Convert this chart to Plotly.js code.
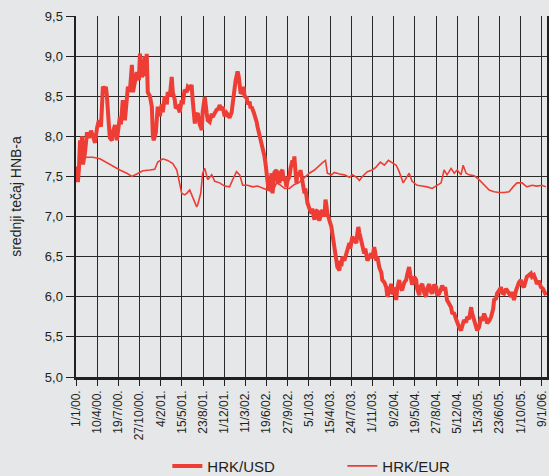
<!DOCTYPE html>
<html>
<head>
<meta charset="utf-8">
<script src="https://cdn.plot.ly/plotly-3.0.1.min.js"></script>
<style>html,body{margin:0;padding:0;background:#e6e7e9;}#chart{width:549px;height:476px;}</style>
</head>
<body>
<div id="chart"></div>
<script>
// Days since 1/1/2000 and rates
const usdDay = [0,5,9,14,19,24,28,33,42,52,61,71,80,90,99,108,118,122,127,137,141,146,151,155,160,170,174,184,193,198,207,212,221,231,236,245,254,264,269,278,287,297,302,311,320,325,330,334,339,349,358,363,367,377,382,386,396,405,410,419,429,433,443,452,457,466,471,481,490,499,504,513,523,528,537,546,551,561,565,575,584,594,598,608,617,622,631,641,645,655,664,674,678,688,693,702,711,721,725,735,740,749,754,758,763,768,773,777,787,791,796,806,810,820,824,829,839,843,853,857,867,876,886,890,895,900,904,909,914,919,923,928,933,937,947,952,961,966,975,980,985,994,999,1008,1013,1022,1027,1031,1036,1041,1046,1055,1060,1069,1079,1083,1093,1102,1112,1116,1126,1131,1140,1145,1149,1159,1163,1173,1178,1182,1187,1197,1206,1211,1220,1225,1229,1234,1244,1248,1253,1258,1267,1277,1281,1291,1295,1305,1314,1324,1328,1333,1338,1347,1352,1361,1366,1376,1385,1394,1399,1408,1413,1418,1423,1432,1442,1446,1456,1465,1470,1479,1484,1489,1493,1503,1507,1512,1517,1526,1531,1540,1550,1559,1564,1573,1578,1587,1597,1606,1611,1621,1625,1635,1644,1653,1658,1668,1672,1682,1691,1701,1705,1715,1724,1729,1738,1743,1752,1762,1771,1776,1786,1795,1800,1809,1818,1823,1832,1842,1847,1856,1866,1870,1880,1889,1894,1903,1913,1918,1927,1937,1941,1951,1960,1970,1974,1984,1988,1998,2007,2012,2021,2031,2035,2045,2054,2059,2068,2078,2082,2092,2101,2106,2115,2125,2129,2139,2148,2153,2162,2172,2176,2186,2195,2205,2209,2219];
const usdRate = [7.52,7.62,7.43,7.60,7.95,7.68,8.00,7.65,7.79,8.05,7.98,8.07,8.00,7.92,8.10,8.20,8.12,8.45,8.62,8.58,8.62,8.50,8.37,8.15,7.98,7.95,8.05,8.14,7.95,8.10,8.24,8.15,8.45,8.20,8.40,8.62,8.55,8.89,8.55,8.70,8.80,8.70,9.03,8.74,8.80,9.00,8.75,9.03,8.55,8.50,8.37,8.00,7.95,8.05,8.20,8.37,8.25,8.40,8.30,8.50,8.40,8.55,8.50,8.74,8.55,8.46,8.35,8.37,8.30,8.45,8.40,8.58,8.55,8.62,8.60,8.64,8.45,8.16,8.25,8.29,8.15,8.08,8.30,8.49,8.29,8.20,8.18,8.28,8.24,8.30,8.33,8.35,8.39,8.33,8.37,8.25,8.29,8.25,8.23,8.30,8.45,8.60,8.70,8.80,8.81,8.75,8.66,8.55,8.54,8.62,8.50,8.48,8.40,8.43,8.35,8.37,8.30,8.27,8.18,8.12,8.02,7.92,7.82,7.75,7.66,7.58,7.45,7.33,7.50,7.40,7.54,7.29,7.45,7.55,7.58,7.45,7.42,7.55,7.58,7.45,7.50,7.37,7.45,7.50,7.60,7.70,7.62,7.75,7.58,7.42,7.55,7.50,7.58,7.42,7.29,7.35,7.17,7.10,7.04,7.10,6.96,7.06,7.08,6.98,6.95,7.06,7.08,7.00,7.21,7.15,7.04,6.95,6.87,6.78,6.62,6.50,6.42,6.37,6.33,6.45,6.38,6.50,6.45,6.54,6.62,6.67,6.60,6.75,6.70,6.67,6.78,6.87,6.80,6.70,6.62,6.54,6.60,6.45,6.50,6.54,6.48,6.62,6.55,6.45,6.50,6.37,6.30,6.21,6.18,6.12,6.00,6.08,6.15,6.16,6.05,6.04,6.12,5.96,6.10,6.21,6.12,6.08,6.18,6.21,6.28,6.37,6.28,6.15,6.25,6.21,6.10,6.02,6.12,6.16,6.05,6.00,6.10,6.16,6.08,6.04,6.15,6.12,6.02,6.04,6.10,6.14,6.08,6.12,5.96,5.92,5.87,5.80,5.79,5.72,5.67,5.62,5.58,5.62,5.71,5.68,5.75,5.72,5.87,5.80,5.71,5.65,5.58,5.62,5.75,5.70,5.79,5.72,5.67,5.70,5.75,5.85,5.96,5.98,6.04,6.08,6.12,6.05,6.04,6.10,6.08,6.02,6.00,6.06,5.96,6.08,6.12,6.18,6.21,6.15,6.12,6.20,6.25,6.27,6.29,6.25,6.27,6.20,6.16,6.20,6.12,6.10,6.08,6.02];

const eurDay = [0,9,19,28,52,80,113,146,174,207,240,264,287,316,349,372,386,410,433,457,476,485,495,499,513,523,537,551,561,570,575,589,598,608,622,641,655,678,702,725,740,758,773,787,810,834,857,881,904,928,947,961,985,1008,1031,1051,1069,1088,1102,1126,1149,1163,1178,1187,1206,1220,1244,1267,1291,1305,1324,1338,1352,1376,1399,1418,1437,1456,1475,1493,1512,1526,1545,1564,1573,1587,1611,1635,1658,1682,1701,1724,1738,1752,1771,1786,1800,1818,1828,1842,1856,1880,1903,1927,1951,1974,1998,2021,2045,2064,2082,2106,2129,2153,2176,2200,2219];
const eurRate = [7.58,7.62,7.70,7.73,7.74,7.74,7.72,7.67,7.62,7.58,7.54,7.50,7.53,7.57,7.58,7.59,7.68,7.72,7.70,7.66,7.58,7.46,7.33,7.29,7.27,7.29,7.33,7.25,7.18,7.12,7.15,7.29,7.54,7.60,7.46,7.52,7.44,7.42,7.38,7.37,7.46,7.56,7.52,7.39,7.39,7.37,7.38,7.35,7.33,7.31,7.42,7.40,7.35,7.35,7.40,7.42,7.46,7.50,7.54,7.58,7.64,7.67,7.70,7.54,7.52,7.55,7.53,7.52,7.49,7.52,7.49,7.45,7.50,7.56,7.58,7.62,7.68,7.64,7.70,7.67,7.64,7.56,7.42,7.50,7.54,7.44,7.39,7.38,7.37,7.35,7.38,7.42,7.58,7.52,7.60,7.54,7.58,7.52,7.64,7.54,7.52,7.51,7.46,7.40,7.33,7.31,7.30,7.30,7.31,7.37,7.42,7.42,7.37,7.39,7.38,7.39,7.37];

const tickLabels = ["1/1/00.","10/4/00.","19/7/00.","27/10/00.","4/2/01.","15/5/01.","23/8/01.","1/12/01.","11/3/02.","19/6/02.","27/9/02.","5/1/03.","15/4/03.","24/7/03.","1/11/03.","9/2/04.","19/5/04.","27/8/04.","5/12/04.","15/3/05.","23/6/05.","1/10/05.","9/1/06."];
const tickDays = [0,100,200,300,400,500,600,700,800,900,1000,1100,1200,1300,1400,1500,1600,1700,1800,1900,2000,2100,2200];
const seriesNames = ["HRK/USD","HRK/EUR"];

const base = Date.UTC(2000,0,1);
const toDate = d => new Date(base + d*86400000).toISOString().slice(0,10);

const red = '#ee3d34';
const ink = '#231f20';
const grid = '#2a2a2a';

const traces = [
  {x: usdDay.map(toDate), y: usdRate, name: seriesNames[0], type:'scatter', mode:'lines',
   line:{color:red, width:4}},
  {x: eurDay.map(toDate), y: eurRate, name: seriesNames[1], type:'scatter', mode:'lines',
   line:{color:red, width:1.6}}
];

const layout = {
  width:549, height:476,
  margin:{l:76, r:2, t:16, b:99, autoexpand:false},
  paper_bgcolor:'#e6e7e9', plot_bgcolor:'#e6e7e9',
  separators:', ',
  font:{family:'Liberation Sans, Arial, sans-serif', color:ink},
  showlegend:true,
  legend:{orientation:'h', x:0.194, xanchor:'left', y:-0.247, yanchor:'middle',
          font:{size:15, color:ink}, bgcolor:'rgba(0,0,0,0)', entrywidth:130, traceorder:'normal'},
  xaxis:{type:'date', range:[toDate(0), toDate(2224)],
         tickmode:'array', tickvals:tickDays.map(toDate), ticktext:tickLabels,
         tickangle:-90, tickfont:{size:12, color:ink},
         ticks:'outside', ticklen:6, tickcolor:ink, tickwidth:1,
         showgrid:true, gridcolor:grid, gridwidth:1,
         showline:true, linecolor:ink, linewidth:2.5, zeroline:false, fixedrange:true},
  yaxis:{range:[5,9.5], tick0:5, dtick:0.5, tickformat:'.1f',
         tickfont:{size:13, color:ink},
         ticks:'outside', ticklen:8, tickcolor:ink, tickwidth:1,
         showgrid:true, gridcolor:grid, gridwidth:1,
         showline:true, linecolor:ink, linewidth:2.5, mirror:true, zeroline:false,
         title:{text:'srednji tečaj HNB-a', font:{size:14, color:ink}, standoff:20}}
};

Plotly.newPlot('chart', traces, layout, {displayModeBar:false, staticPlot:true});
</script>
</body>
</html>
